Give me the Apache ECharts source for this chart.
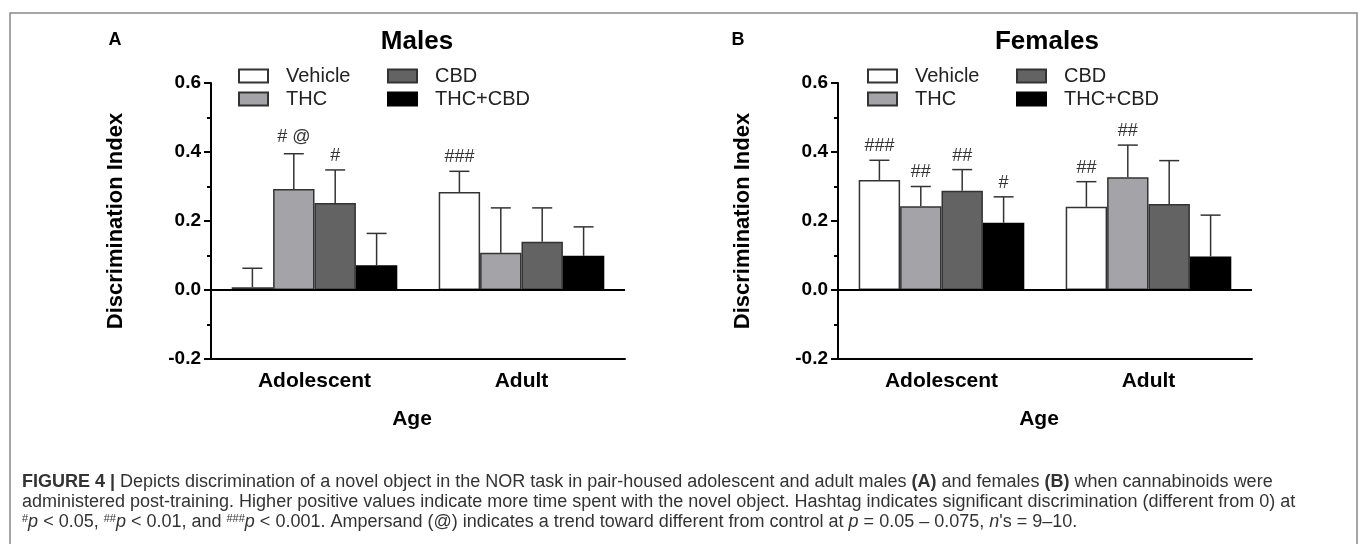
<!DOCTYPE html>
<html><head><meta charset="utf-8">
<script src="https://cdn.jsdelivr.net/npm/echarts@6/dist/echarts.min.js"></script>
<style>html,body{margin:0;padding:0;background:#fff}#c{width:1359px;height:544px}</style>
</head><body><div id="c"></div>
<script>
// ---------- data ----------
const categories = ['Adolescent', 'Adult'];
const groupNames = ['Vehicle', 'THC', 'CBD', 'THC+CBD'];
const yMin = -0.2, yMax = 0.6, yStep = 0.2;

const malesVehicle = [0.008, 0.284];
const malesTHC = [0.293, 0.108];
const malesCBD = [0.252, 0.140];
const malesTHCCBD = [0.072, 0.099];
const malesVehicleErr = [0.055, 0.060];
const malesTHCErr = [0.102, 0.130];
const malesCBDErr = [0.096, 0.098];
const malesTHCCBDErr = [0.092, 0.084];
const malesVehicleNote = ['', '###'];
const malesTHCNote = ['# @', ''];
const malesCBDNote = ['#', ''];
const malesTHCCBDNote = ['', ''];

const femalesVehicle = [0.319, 0.241];
const femalesTHC = [0.243, 0.327];
const femalesCBD = [0.288, 0.249];
const femalesTHCCBD = [0.195, 0.097];
const femalesVehicleErr = [0.057, 0.073];
const femalesTHCErr = [0.057, 0.093];
const femalesCBDErr = [0.061, 0.126];
const femalesTHCCBDErr = [0.075, 0.120];
const femalesVehicleNote = ['###', '##'];
const femalesTHCNote = ['##', '##'];
const femalesCBDNote = ['##', ''];
const femalesTHCCBDNote = ['#', ''];

// ---------- styling ----------
const FONT = '"Liberation Sans", Arial, Helvetica, sans-serif';
const fills = ['#ffffff', '#a4a4a8', '#636363', '#000000'];
const strokes = ['#333333', '#333333', '#333333', '#000000'];

const chart = echarts.init(document.getElementById('c'), null, {renderer: 'canvas'});

function makeBars(g, means) {
  return groupNames.map((name, i) => {
    const s = {
      type: 'bar', name: name, xAxisIndex: g, yAxisIndex: g,
      data: means[i], barGap: '0%', barCategoryGap: '20%',
      itemStyle: {color: fills[i], borderColor: strokes[i], borderWidth: 1.5},
      emphasis: {disabled: true}, silent: true, animation: false, z: 2
    };
    if (i === 0) {
      s.markLine = {
        silent: true, symbol: ['none', 'none'], label: {show: false},
        lineStyle: {color: '#000', width: 2, type: 'solid'},
        data: [{yAxis: 0}], animation: false
      };
    }
    return s;
  });
}

function makeErrors(g, means, errs, notes) {
  const data = [], labels = [];
  groupNames.forEach((n, s) => categories.forEach((c, k) => {
    data.push([k, means[s][k], errs[s][k], s]);
    labels.push(notes[s][k]);
  }));
  return {
    type: 'custom', xAxisIndex: g, yAxisIndex: g, z: 5, silent: true, animation: false,
    encode: {x: 0, y: 1}, data: data,
    renderItem: function (params, api) {
      const k = api.value(0), m = api.value(1), e = api.value(2), s = api.value(3);
      const lay = api.barLayout({barGap: '0%', barCategoryGap: '20%', count: 4});
      const pTop = api.coord([k, m + e]);
      const pBase = api.coord([k, m]);
      const x = pTop[0] + lay[s].offsetCenter;
      const cap = 10;
      const children = [
        {type: 'line', shape: {x1: x, y1: pBase[1], x2: x, y2: pTop[1]}, style: {stroke: '#333', lineWidth: 1.5}},
        {type: 'line', shape: {x1: x - cap, y1: pTop[1], x2: x + cap, y2: pTop[1]}, style: {stroke: '#333', lineWidth: 1.5}}
      ];
      const note = labels[params.dataIndex];
      if (note) {
        const lift = note.indexOf('@') >= 0 ? 17 : 14;
        children.push({type: 'text', x: x, y: pTop[1] - lift,
          style: {text: note, fill: '#333', font: '18px ' + FONT, align: 'center', verticalAlign: 'middle'}});
      }
      return {type: 'group', children: children};
    }
  };
}

function xAxisFor(g) {
  return {
    type: 'category', gridIndex: g, data: categories,
    axisLine: {onZero: false, lineStyle: {color: '#000', width: 2}},
    axisTick: {alignWithLabel: true, length: 8, lineStyle: {color: '#000', width: 2}},
    axisLabel: {fontSize: 21, fontWeight: 'bold', color: '#000', margin: 12, fontFamily: FONT},
    name: 'Age', nameLocation: 'middle', nameGap: 50,
    nameTextStyle: {fontSize: 21, fontWeight: 'bold', color: '#000', fontFamily: FONT, padding: [0, 12, 0, 0]}
  };
}
function yAxisFor(g) {
  return {
    type: 'value', gridIndex: g, min: yMin, max: yMax, interval: yStep,
    axisLine: {show: true, lineStyle: {color: '#000', width: 2}},
    axisTick: {show: true, length: 7, lineStyle: {color: '#000', width: 2}},
    minorTick: {show: true, splitNumber: 2, length: 4, lineStyle: {color: '#000', width: 2}},
    splitLine: {show: false},
    axisLabel: {fontSize: 19, fontWeight: 'bold', color: '#000', margin: 10, fontFamily: FONT,
      formatter: v => v.toFixed(1)},
    name: 'Discrimination Index', nameLocation: 'middle', nameGap: 84,
    nameTextStyle: {fontSize: 22, fontWeight: 'bold', color: '#000', fontFamily: FONT}
  };
}

const legendCommon = {
  orient: 'vertical', top: 66, padding: 0, itemWidth: 29, itemHeight: 13, itemGap: 3,
  icon: 'rect', selectedMode: false,
  textStyle: {fontSize: 20, fontFamily: FONT, color: '#222', padding: [0, 0, 0, 13]}
};

const CAP = 18;
const captionRich = {
  b: {fontWeight: 'bold', fontSize: CAP, fontFamily: FONT, color: '#333'},
  i: {fontStyle: 'italic', fontSize: CAP, fontFamily: FONT, color: '#333'},
  sup: {fontSize: 11, fontFamily: FONT, color: '#333', verticalAlign: 'top', lineHeight: 16}
};
function captionLine(text, y) {
  return {type: 'text', x: 22, y: y, silent: true,
    style: {text: text, font: CAP + 'px ' + FONT, fill: '#333', align: 'left', verticalAlign: 'middle', rich: captionRich}};
}

const option = {
  backgroundColor: '#fff',
  animation: false,
  grid: [
    {left: 211, top: 83, width: 414, height: 276},
    {left: 838, top: 83, width: 414, height: 276}
  ],
  xAxis: [xAxisFor(0), xAxisFor(1)],
  yAxis: [yAxisFor(0), yAxisFor(1)],
  legend: [
    Object.assign({}, legendCommon, {data: ['Vehicle', 'THC'], left: 238}),
    Object.assign({}, legendCommon, {data: ['CBD', 'THC+CBD'], left: 387}),
    Object.assign({}, legendCommon, {data: ['Vehicle', 'THC'], left: 867}),
    Object.assign({}, legendCommon, {data: ['CBD', 'THC+CBD'], left: 1016})
  ],
  series: [].concat(
    makeBars(0, [malesVehicle, malesTHC, malesCBD, malesTHCCBD]),
    makeBars(1, [femalesVehicle, femalesTHC, femalesCBD, femalesTHCCBD]),
    [makeErrors(0, [malesVehicle, malesTHC, malesCBD, malesTHCCBD],
      [malesVehicleErr, malesTHCErr, malesCBDErr, malesTHCCBDErr],
      [malesVehicleNote, malesTHCNote, malesCBDNote, malesTHCCBDNote]),
     makeErrors(1, [femalesVehicle, femalesTHC, femalesCBD, femalesTHCCBD],
      [femalesVehicleErr, femalesTHCErr, femalesCBDErr, femalesTHCCBDErr],
      [femalesVehicleNote, femalesTHCNote, femalesCBDNote, femalesTHCCBDNote])]
  ),
  graphic: [
    {type: 'rect', silent: true, shape: {x: 10, y: 13, width: 1347, height: 600},
      style: {fill: 'none', stroke: '#888', lineWidth: 1.5}},
    {type: 'text', x: 115, y: 40, silent: true,
      style: {text: 'A', font: 'bold 18px ' + FONT, fill: '#000', align: 'center', verticalAlign: 'middle'}},
    {type: 'text', x: 738, y: 40, silent: true,
      style: {text: 'B', font: 'bold 18px ' + FONT, fill: '#000', align: 'center', verticalAlign: 'middle'}},
    {type: 'text', x: 417, y: 42, silent: true,
      style: {text: 'Males', font: 'bold 26px ' + FONT, fill: '#000', align: 'center', verticalAlign: 'middle'}},
    {type: 'text', x: 1047, y: 42, silent: true,
      style: {text: 'Females', font: 'bold 26px ' + FONT, fill: '#000', align: 'center', verticalAlign: 'middle'}},
    captionLine('{b|FIGURE 4 |} Depicts discrimination of a novel object in the NOR task in pair-housed adolescent and adult males {b|(A)} and females {b|(B)} when cannabinoids were', 482),
    captionLine('administered post-training. Higher positive values indicate more time spent with the novel object. Hashtag indicates significant discrimination (different from 0) at', 502),
    captionLine('{sup|#}{i|p} < 0.05, {sup|##}{i|p} < 0.01, and {sup|###}{i|p} < 0.001. Ampersand (@) indicates a trend toward different from control at {i|p} = 0.05 – 0.075, {i|n}\'s = 9–10.', 522)
  ]
};
chart.setOption(option);
</script>
</body></html>
